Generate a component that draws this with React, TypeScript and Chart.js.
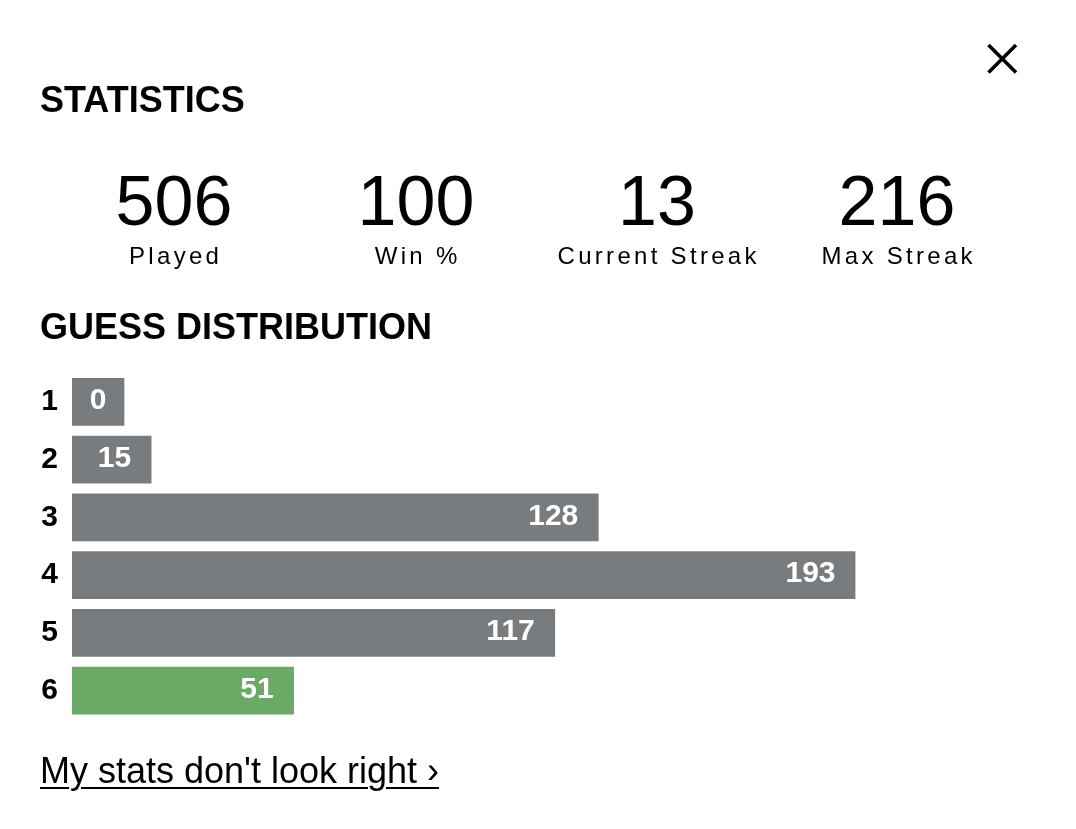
import React, { useEffect, useRef } from "react";
import { Chart, registerables } from "chart.js";

Chart.register(...registerables);

// ---- data ----
const guessLabels = ["1", "2", "3", "4", "5", "6"];
const guessCounts = [0, 15, 128, 193, 117, 51];
const currentGuess = 6;

const statValues = ["506", "100", "13", "216"];
const statLabels = ["Played", "Win %", "Current Streak", "Max Streak"];

const GRAY = "#787c7e";
const GREEN = "#6aaa64";
const FONT = '"Liberation Sans", Arial, sans-serif';
const MIN_BAR = 52;

const valueLabelPlugin = {
  id: "valueLabels",
  afterDatasetsDraw(chart: any) {
    const ctx = chart.ctx;
    const meta = chart.getDatasetMeta(0);
    ctx.save();
    ctx.font = `bold 30px ${FONT}`;
    ctx.fillStyle = "#ffffff";
    ctx.textBaseline = "middle";
    meta.data.forEach((bar: any, i: number) => {
      const { x, y, base } = bar.getProps(["x", "y", "base"], true);
      const w = x - base;
      const txt = String(guessCounts[i]);
      if (w <= MIN_BAR + 0.5) {
        ctx.textAlign = "center";
        ctx.fillText(txt, (x + base) / 2, y - 1);
      } else {
        ctx.textAlign = "right";
        ctx.fillText(txt, x - 20, y - 1);
      }
    });
    ctx.restore();
  },
};

function DistributionChart() {
  const ref = useRef<HTMLCanvasElement | null>(null);
  useEffect(() => {
    if (!ref.current) return;
    const chart = new Chart(ref.current, {
      type: "bar",
      data: {
        labels: guessLabels,
        datasets: [
          {
            data: guessCounts,
            backgroundColor: guessLabels.map((_, i) =>
              i + 1 === currentGuess ? GREEN : GRAY
            ),
            base: -5,
            barThickness: 47,
            minBarLength: MIN_BAR,
            borderWidth: 0,
          } as any,
        ],
      },
      options: {
        indexAxis: "y",
        responsive: false,
        maintainAspectRatio: false,
        animation: false,
        devicePixelRatio: 1,
        layout: { padding: { left: 32, right: 220.5, top: 373, bottom: 109.5 } },
        scales: {
          x: { type: "linear", min: -5, max: 193, display: false },
          y: {
            grid: { display: false, drawTicks: false },
            border: { display: false },
            ticks: {
              color: "#000000",
              padding: 14,
              font: { family: FONT, size: 30, weight: "bold" },
            },
            afterFit: (s: any) => {
              s.width = 40;
            },
          },
        },
        plugins: { legend: { display: false }, tooltip: { enabled: false } },
      },
      plugins: [valueLabelPlugin],
    });
    return () => chart.destroy();
  }, []);
  return (
    <canvas
      ref={ref}
      width={1076}
      height={829}
      style={{ position: "absolute", left: 0, top: 0, width: 1076, height: 829 }}
    />
  );
}

export default function App() {
  const centers = [174, 416, 657, 897];
  return (
    <div
      style={{
        position: "absolute",
        left: 0,
        top: 0,
        width: 1076,
        height: 829,
        overflow: "hidden",
        background: "#ffffff",
        fontFamily: FONT,
        color: "#000000",
      }}
    >
      <DistributionChart />
      <svg
        width={1076}
        height={829}
        style={{ position: "absolute", left: 0, top: 0, pointerEvents: "none" }}
      >
        <line x1={988.5} y1={45} x2={1016} y2={72.5} stroke="#000" strokeWidth={3.6} />
        <line x1={1016} y1={45} x2={988.5} y2={72.5} stroke="#000" strokeWidth={3.6} />
      </svg>
      <div
        style={{
          position: "absolute",
          left: 40,
          top: 82,
          fontSize: 36,
          lineHeight: "36px",
          fontWeight: "bold",
          whiteSpace: "nowrap",
        }}
      >
        STATISTICS
      </div>
      {statValues.map((v, i) => (
        <div
          key={"v" + i}
          style={{
            position: "absolute",
            left: centers[i] - 120,
            width: 240,
            top: 166,
            textAlign: "center",
            fontSize: 70,
            lineHeight: "70px",
            whiteSpace: "nowrap",
          }}
        >
          {v}
        </div>
      ))}
      {statLabels.map((l, i) => (
        <div
          key={"l" + i}
          style={{
            position: "absolute",
            left: centers[i] - 120,
            width: 240,
            top: 244,
            textAlign: "center",
            fontSize: 24,
            lineHeight: "24px",
            letterSpacing: "3.3px",
            paddingLeft: 3.3,
            boxSizing: "border-box",
            whiteSpace: "nowrap",
          }}
        >
          {l}
        </div>
      ))}
      <div
        style={{
          position: "absolute",
          left: 40,
          top: 309,
          fontSize: 36,
          lineHeight: "36px",
          fontWeight: "bold",
          whiteSpace: "nowrap",
        }}
      >
        GUESS DISTRIBUTION
      </div>
      <div
        style={{
          position: "absolute",
          left: 40,
          top: 752.5,
          fontSize: 36,
          lineHeight: "36px",
          whiteSpace: "nowrap",
          textDecoration: "underline",
          textDecorationThickness: 2,
          textUnderlineOffset: 4,
        }}
      >
        My stats don't look right ›
      </div>
    </div>
  );
}
